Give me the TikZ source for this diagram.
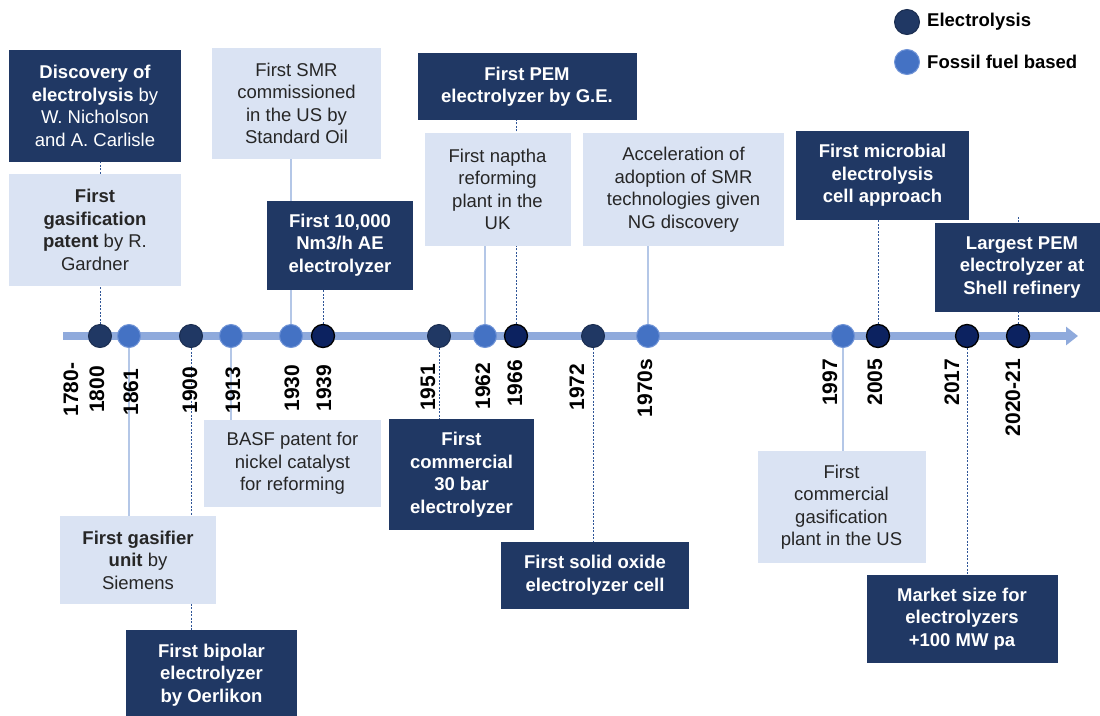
\documentclass[tikz,border=0pt]{standalone}
\usepackage{fontspec}
\setmainfont{Liberation Sans}
\usetikzlibrary{arrows.meta,backgrounds}
\definecolor{navy}{HTML}{203864}
\definecolor{deepnavy}{HTML}{0C2260}
\definecolor{medblue}{HTML}{4472C4}
\definecolor{medrim}{HTML}{6F93D6}
\definecolor{axisblue}{HTML}{8FAADC}
\definecolor{paleblue}{HTML}{DAE3F3}
\definecolor{connlight}{HTML}{B4C7E7}
\definecolor{conndark}{HTML}{2F5597}
\definecolor{txtgray}{HTML}{262626}
\newcommand{\boxfont}{\fontsize{18.5}{22.5}\selectfont}
\tikzset{
  boxbase/.style={align=center, inner sep=0pt, font=\boxfont},
  darkbox/.style={boxbase, fill=navy, text=white, font=\boxfont\bfseries},
  litebox/.style={boxbase, fill=paleblue, text=txtgray},
  dims/.style 2 args={minimum width=#1, minimum height=#2},
  dotbase/.style={circle, minimum size=23pt, inner sep=0pt},
  edot/.style={dotbase, fill=navy, draw=navy!80!black, line width=1pt},
  xdot/.style={dotbase, fill=deepnavy, draw=black, line width=1.3pt},
  fdot/.style={dotbase, fill=medblue, draw=medrim, line width=1pt},
  yr/.style={rotate=90, inner sep=0pt, align=center, text=black,
             font=\fontsize{21}{26}\selectfont\bfseries},
  dashc/.style={draw=conndark, line width=0.9pt, dash pattern=on 2pt off 1.5pt},
  solidc/.style={draw=connlight, line width=1.2pt},
  axisline/.style={draw=axisblue, line width=7.5pt, -{Triangle[length=12pt,width=18pt]}},
  legtext/.style={anchor=west, inner sep=0pt, text=black, font=\fontsize{18.5}{22}\selectfont\bfseries}
}
\begin{document}
\begin{tikzpicture}[x=1pt,y=-1pt]
\clip (0,0) rectangle (1100,715);

% axis end points
\coordinate (axs) at (63,336);
\coordinate (axe) at (1078,336);
\coordinate (shtop) at (1018,217);

% dots
\node[edot] (d1800) at (100,336) {};
\node[fdot] (d1861) at (129,336) {};
\node[edot] (d1900) at (191,336) {};
\node[fdot] (d1913) at (231,336) {};
\node[fdot] (d1930) at (291,336) {};
\node[xdot] (d1939) at (323,336) {};
\node[edot] (d1951) at (439,336) {};
\node[fdot] (d1962) at (485,336) {};
\node[xdot] (d1966) at (516,336) {};
\node[edot] (d1972) at (593,336) {};
\node[fdot] (d1970s) at (648,336) {};
\node[fdot] (d1997) at (843,336) {};
\node[xdot] (d2005) at (878,336) {};
\node[xdot] (d2017) at (967,336) {};
\node[xdot] (d2021) at (1018,336) {};

% year labels
\node[yr] (y1800) at (84,389.5) {1780-\\1800};
\node[yr] (y1861) at (131,392) {1861};
\node[yr] (y1900) at (190,390) {1900};
\node[yr] (y1913) at (233,390) {1913};
\node[yr] (y1930) at (292,388) {1930};
\node[yr] (y1939) at (324,388) {1939};
\node[yr] (y1951) at (428,387.5) {1951};
\node[yr] (y1962) at (483,386) {1962};
\node[yr] (y1966) at (515,383.5) {1966};
\node[yr] (y1972) at (577,387) {1972};
\node[yr] (y1970s) at (645,388) {1970s};
\node[yr] (y1997) at (830,382.5) {1997};
\node[yr] (y2005) at (875,382) {2005};
\node[yr] (y2017) at (952,382) {2017};
\node[yr] (y2021) at (1013,397.5) {2020-21};

% boxes above
\node[darkbox, dims={172}{112}] (disc) at (95,106)
  {Discovery of\\electrolysis {\mdseries by}\\{\mdseries W. Nicholson}\\{\mdseries and A. Carlisle}};
\node[litebox, dims={172}{112}] (gasp) at (95,230)
  {\textbf{First}\\\textbf{gasification}\\\textbf{patent} by R.\\Gardner};
\node[litebox, dims={169}{111}] (smr) at (296.5,103.5)
  {First SMR\\commissioned\\in the US by\\Standard Oil};
\node[darkbox, dims={146}{89}] (ae) at (340,245)
  {First 10,000\\Nm3/h AE\\electrolyzer};
\node[darkbox, dims={219}{67}] (pem) at (527,86.5)
  {First PEM\\electrolyzer by G.E.};
\node[litebox, dims={146}{113}] (naph) at (497.5,189.5)
  {First naptha\\reforming\\plant in the\\UK};
\node[litebox, dims={201}{113}] (accel) at (683.5,189.5)
  {Acceleration of\\adoption of SMR\\technologies given\\NG discovery};
\node[darkbox, dims={173}{89}] (micro) at (882.5,175.5)
  {First microbial\\electrolysis\\cell approach};
\node[darkbox, dims={174}{89}] (shell) at (1022,267.5)
  {Largest PEM\\electrolyzer at\\Shell refinery};

% boxes below
\node[litebox, dims={177}{87}] (basf) at (292.5,463.5)
  {BASF patent for\\nickel catalyst\\for reforming};
\node[litebox, dims={156}{88}] (gasif) at (138,560)
  {\textbf{First gasifier}\\\textbf{unit} by\\Siemens};
\node[darkbox, dims={171}{90}] (bipol) at (211.5,675)
  {First bipolar\\electrolyzer\\by Oerlikon};
\node[darkbox, dims={145}{111}] (comm30) at (461.5,474.5)
  {First\\commercial\\30 bar\\electrolyzer};
\node[darkbox, dims={188}{67}] (sofc) at (595,575)
  {First solid oxide\\electrolyzer cell};
\node[litebox, dims={168}{112}] (gasplant) at (841.5,507)
  {First\\commercial\\gasification\\plant in the US};
\node[darkbox, dims={191}{88}] (market) at (962,619)
  {Market size for\\electrolyzers\\+100 MW pa};

% legend
\node[edot, minimum size=25pt] (lg1) at (907,22) {};
\node[legtext] (lt1) at (927,22) {Electrolysis};
\node[fdot, minimum size=25pt] (lg2) at (907,62) {};
\node[legtext] (lt2) at (927,62) {Fossil fuel based};

% connectors and axis behind everything
\begin{scope}[on background layer]
\draw[axisline] (axs) -- (axe);
\draw[dashc] (d1800) -- (d1800 |- disc.south);
\draw[solidc] (d1930) -- (d1930 |- smr.south);
\draw[dashc] (d1939) -- (d1939 |- ae.south);
\draw[dashc] (d1966) -- (d1966 |- pem.south);
\draw[solidc] (d1962) -- (d1962 |- naph.south);
\draw[solidc] (d1970s) -- (d1970s |- accel.south);
\draw[dashc] (d2005) -- (d2005 |- micro.south);
\draw[dashc] (d2021) -- (shtop);
\draw[solidc] (d1861) -- (d1861 |- gasif.north);
\draw[dashc] (d1900) -- (d1900 |- bipol.north);
\draw[solidc] (d1913) -- (d1913 |- basf.north);
\draw[dashc] (d1951) -- (d1951 |- comm30.north);
\draw[dashc] (d1972) -- (d1972 |- sofc.north);
\draw[solidc] (d1997) -- (d1997 |- gasplant.north);
\draw[dashc] (d2017) -- (d2017 |- market.north);
\end{scope}
\end{tikzpicture}
\end{document}
